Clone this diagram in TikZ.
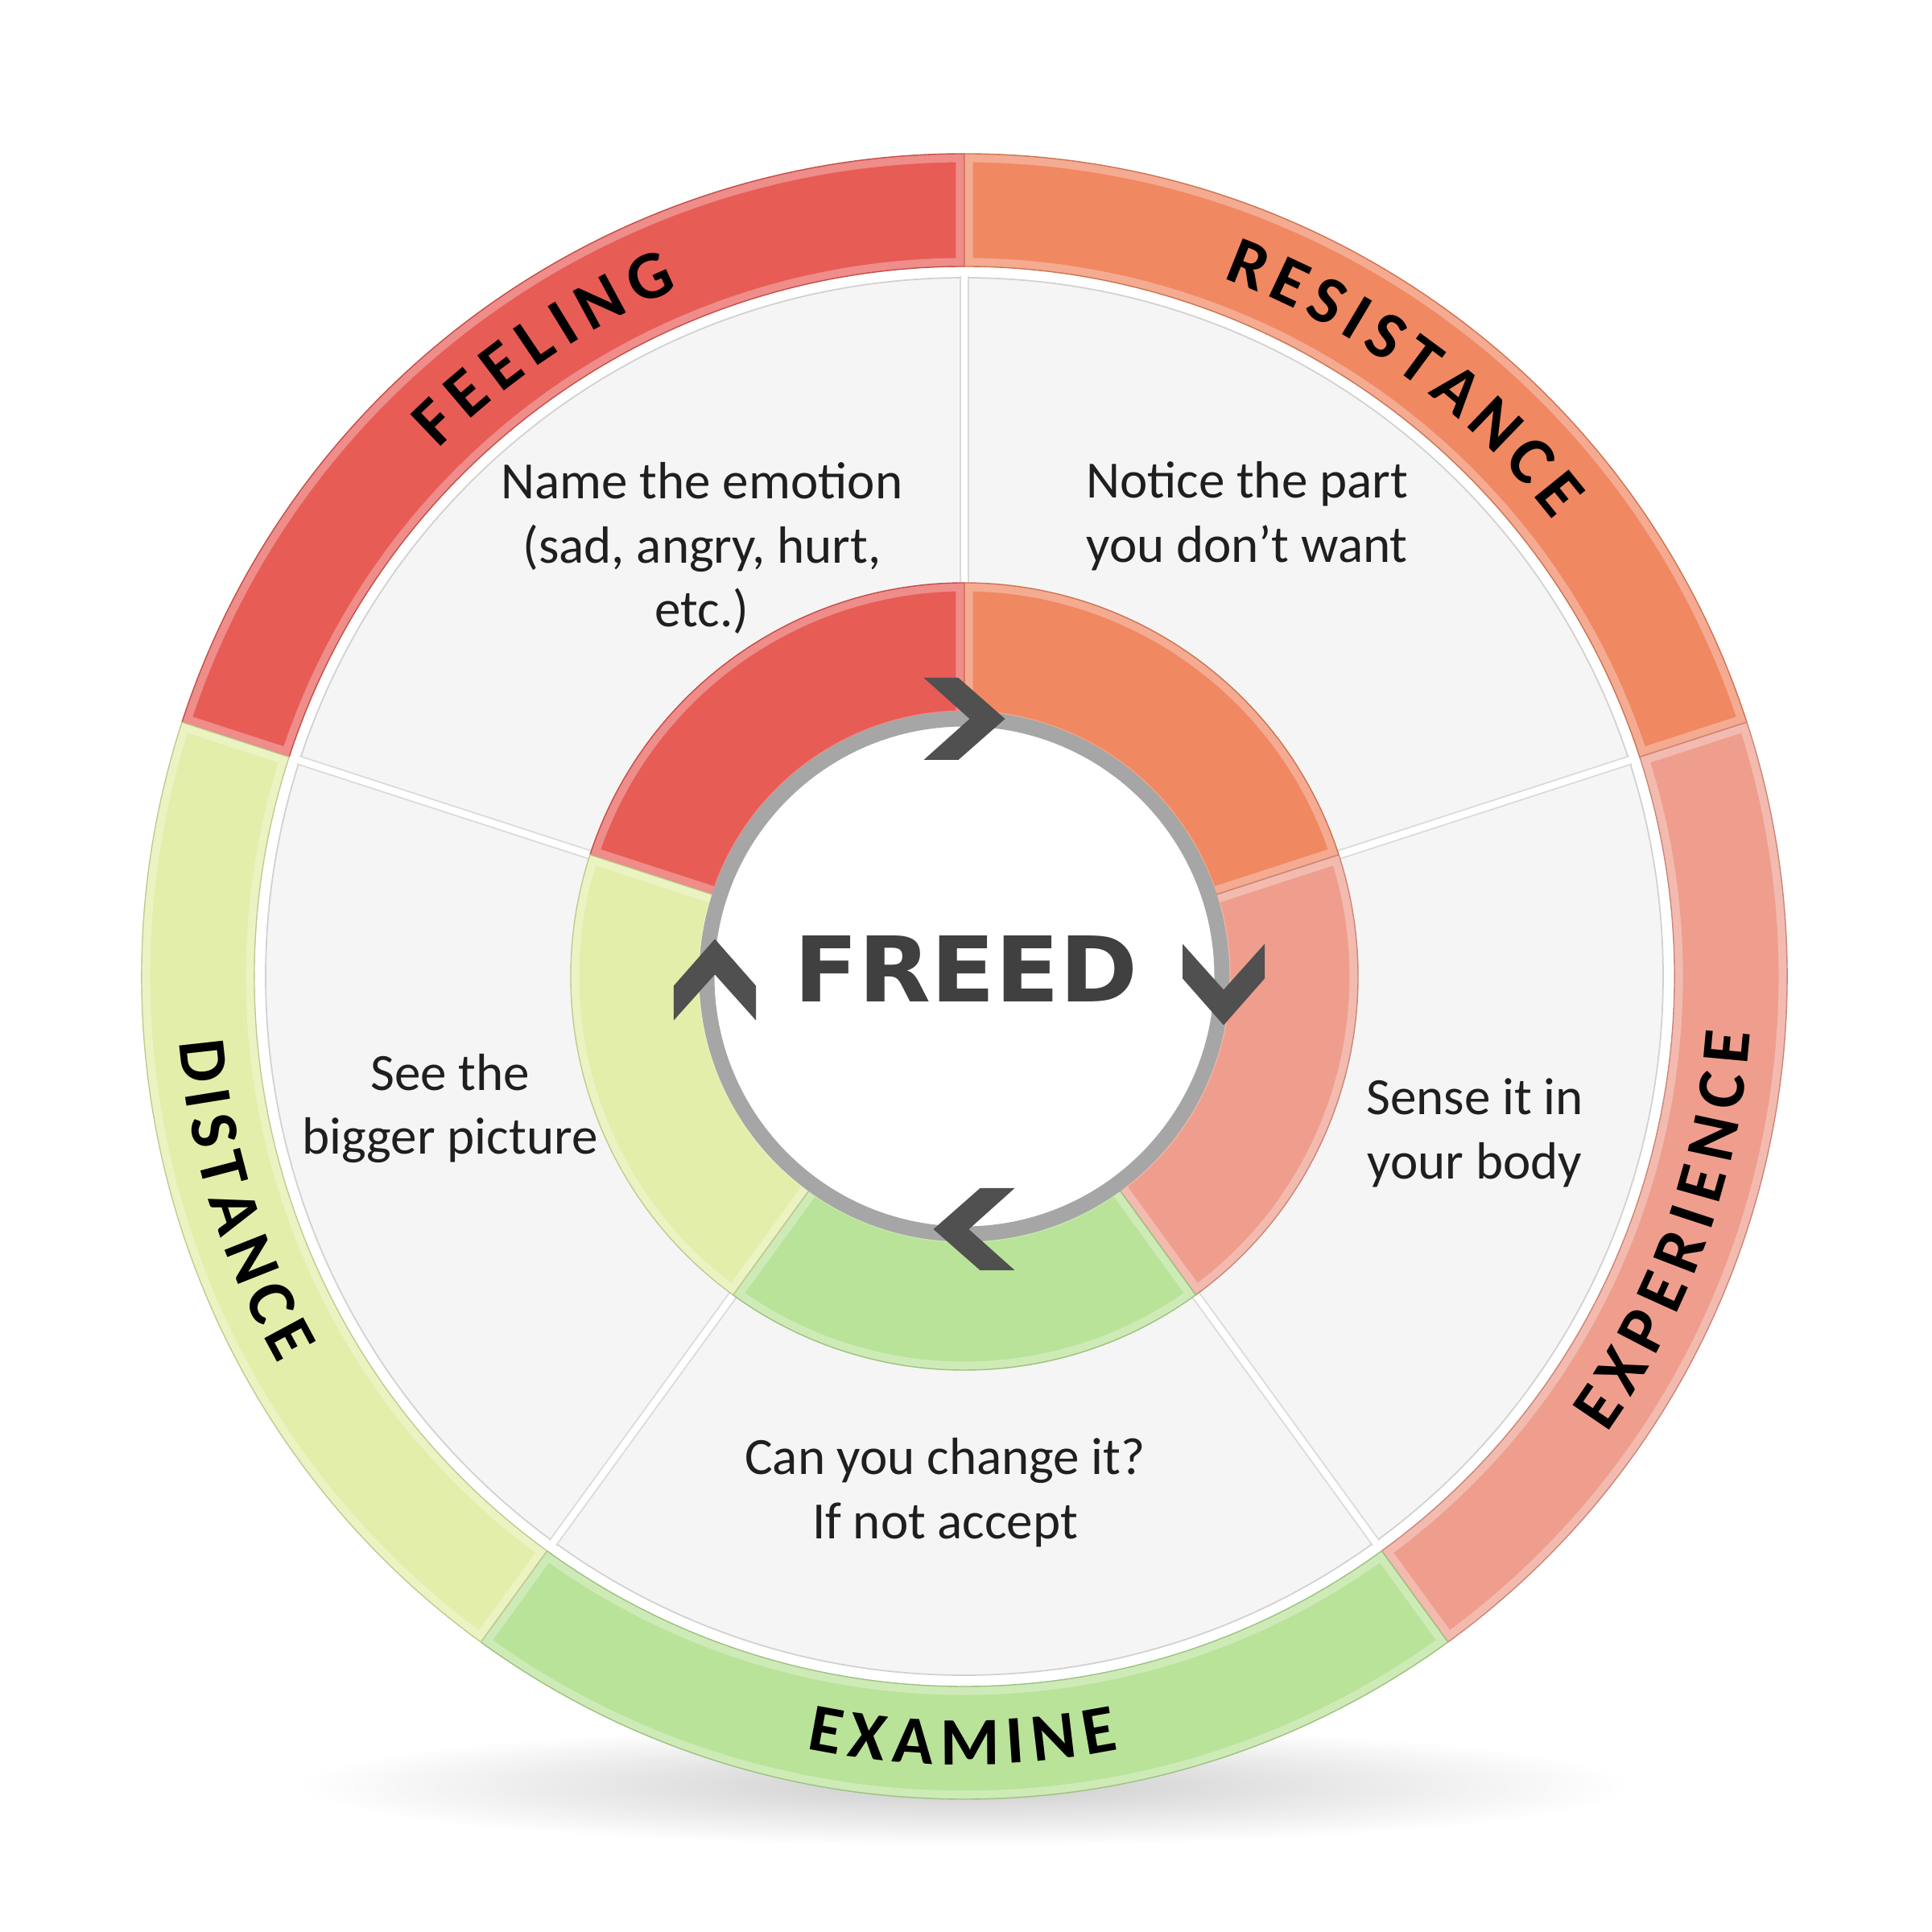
\documentclass[tikz,border=0pt]{standalone}
\usepackage{fontspec}
\setmainfont{Carlito}
\newfontfamily\freedfont{DejaVu Sans}
\usetikzlibrary{decorations.text}

\definecolor{feelred}{HTML}{E85C56}
\definecolor{resorange}{HTML}{F08862}
\definecolor{expsalmon}{HTML}{EF9E8D}
\definecolor{examgreen}{HTML}{B9E399}
\definecolor{distlime}{HTML}{E3EEAA}
\definecolor{panelgray}{HTML}{F5F5F5}
\definecolor{bordergray}{HTML}{A6A6A6}
\definecolor{arrowgray}{HTML}{505050}
\definecolor{freedgray}{HTML}{404040}
\newcommand\ringfont{\bfseries\fontsize{24}{28}\selectfont}

\tikzset{
  paneltext/.style={font=\fontsize{18.5}{22.7}\selectfont, align=center, text=black!88, inner sep=0pt},
  ringlabel/.style={decorate, decoration={text along path, text align={fit to path}, text color=black}},
}

\begin{document}
\begin{tikzpicture}
\useasboundingbox (-11.98,-11.87) rectangle (12.02,12.13);
% shadow
\shade[inner color=black!20, outer color=white] (0,-10.05) ellipse (8.3 and 0.75);
% panels
\fill[panelgray, draw=black!18, line width=0.5pt] (0,0) circle (8.68);
\foreach \a in {90,18,-54,-126,162} {
  \draw[black!15, line width=3.4pt] (\a:4.8) -- (\a:8.7);
  \draw[white, line width=2.4pt] (\a:4.8) -- (\a:8.72);
}
% outer and inner rings
\foreach \a/\b/\c in {90/162/feelred, 18/90/resorange, -54/18/expsalmon, -126/-54/examgreen, 162/234/distlime}
  \foreach \ri/\ro in {8.82/10.22, 3.2/4.89} {
    \path[save path=\segpath] (\a:\ro) arc[start angle=\a, end angle=\b, radius=\ro]
       -- (\b:\ri) arc[start angle=\b, end angle=\a, radius=\ri] -- cycle;
    \begin{scope}
      \path[use path=\segpath, clip];
      \fill[\c, use path=\segpath];
      \draw[white, opacity=0.3, line width=6pt, use path=\segpath];
    \end{scope}
    \draw[\c!85!black, line width=0.4pt, use path=\segpath];
  }
\draw[bordergray, fill=white, line width=0.19cm] (0,0) circle (3.2);
\node[font=\freedfont\bfseries\fontsize{32}{36}\selectfont, text=freedgray, xscale=1.04, inner sep=0pt] (freed) at (0.02,0.09) {FREED};
% chevrons
\foreach \x/\y/\r in {0/3.2/0, 3.22/-0.1/-90, 0.12/-3.14/180, -3.1/-0.04/90}
  \fill[arrowgray, shift={(\x,\y)}, rotate=\r] (-0.505,0.51) -- (-0.075,0.51) -- (0.505,0)
     -- (-0.075,-0.51) -- (-0.505,-0.51) -- (0.065,0) -- cycle;
% ring labels
\path[ringlabel, decoration={text={|\ringfont|FEELING}}] (134.9:9.25) arc[start angle=134.9, end angle=112.6, radius=9.25];
\path[ringlabel, decoration={text={|\ringfont|RESISTANCE}}] (69.7:9.25) arc[start angle=69.7, end angle=37.8, radius=9.25];
\path[ringlabel, decoration={text={|\ringfont|EXPERIENCE}}] (-35.4:9.79) arc[start angle=-35.4, end angle=-4.1, radius=9.79];
\path[ringlabel, decoration={text={|\ringfont|EXAMINE}}] (-101.6:9.79) arc[start angle=-101.6, end angle=-78.7, radius=9.79];
\path[ringlabel, decoration={text={|\ringfont|DISTANCE}}] (184.8:9.79) arc[start angle=184.8, end angle=209.5, radius=9.79];
% panel texts
\node[paneltext] (feeltext) at (-3.26,5.32) {Name the emotion\\(sad, angry, hurt,\\etc.)};
\node[paneltext] (restext) at (3.51,5.72) {Notice the part\\you don’t want};
\node[paneltext] (exptext) at (6.34,-1.94) {Sense it in\\your body};
\node[paneltext] (examtext) at (-0.24,-6.41) {Can you change it?\\If not accept};
\node[paneltext] (disttext) at (-6.39,-1.64) {See the\\bigger picture};
\end{tikzpicture}
\end{document}
